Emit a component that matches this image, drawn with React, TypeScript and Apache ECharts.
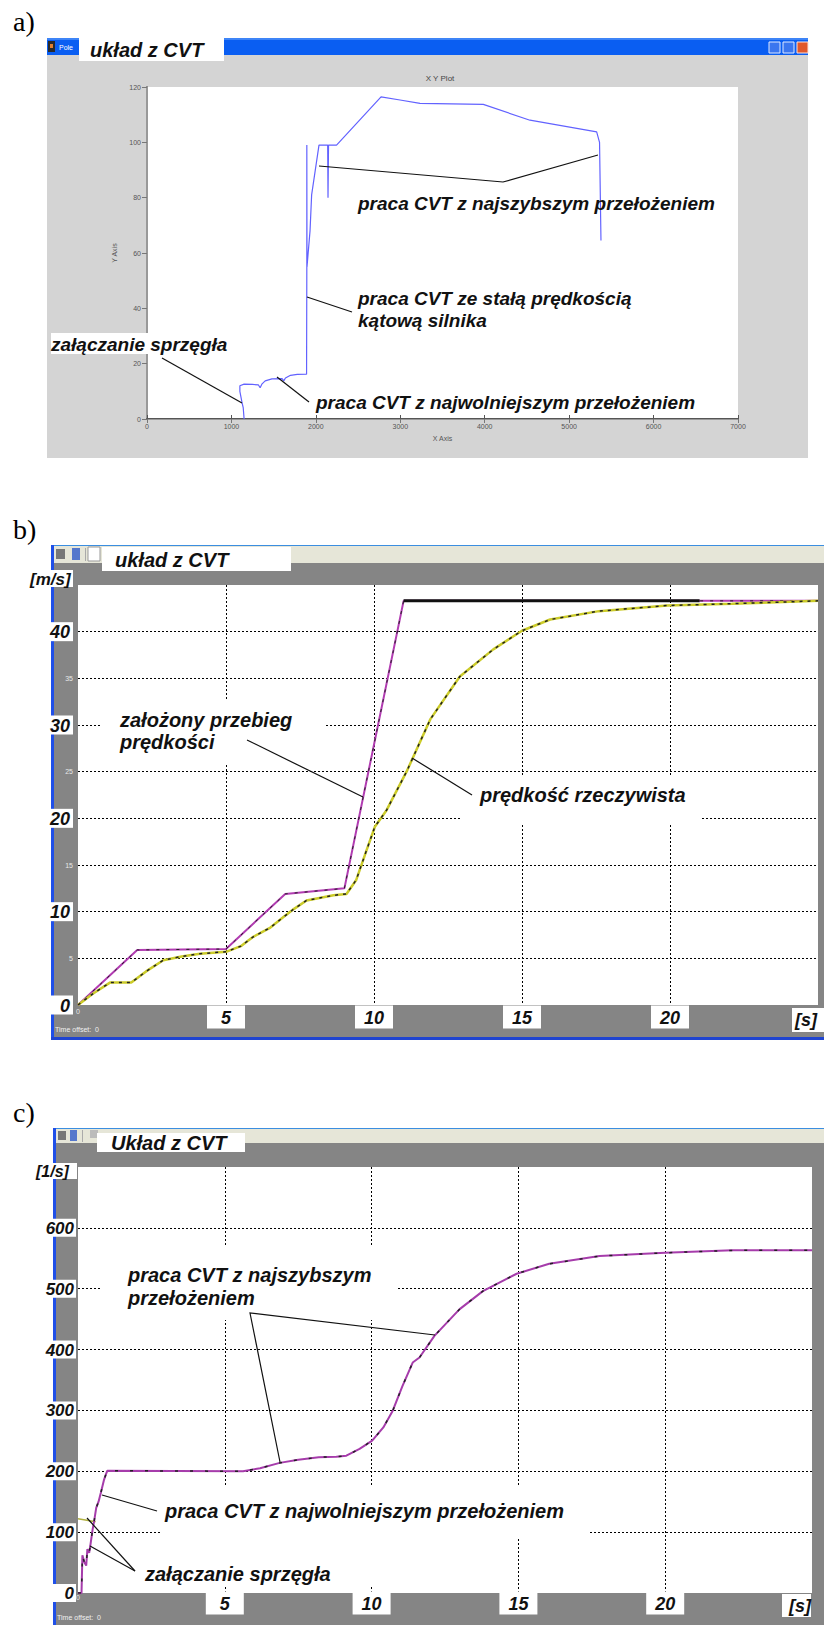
import React, { useEffect, useRef } from 'react';
import * as echarts from 'echarts';

const FAM = '"Liberation Sans", Arial, sans-serif';
const BI = (s: number) => `italic bold ${s}px ${FAM}`;

// ---------- panel a (XY plot) ----------
const aX = [1150, 1140, 1125, 1100, 1100, 1150, 1250, 1320, 1340, 1360, 1400, 1480, 1600, 1620, 1640, 1700, 1780, 1890, 1893, 1893, 1895, 1931, 1950, 2037, 2140, 2144, 2150, 2245, 2772, 2997, 3234, 3983, 4536, 5326, 5360, 5377];
const aY = [0, 4, 6, 10, 12, 12.6, 12.5, 12.3, 11.3, 12.6, 13.8, 14.5, 14.6, 13.8, 14.8, 15.8, 16.1, 16.2, 55, 99, 55, 68, 81, 99, 99, 80, 99, 99, 116.4, 115.3, 114.1, 113.7, 108, 103.8, 100, 64.5];

// ---------- panel b (speed) ----------
const bRefT = [0, 2, 5, 7, 9, 11, 25];
const bRefV = [0, 5.9, 6, 11.9, 12.5, 43.3, 43.3];
const bPlateauT = [11, 21];
const bPlateauV = [43.3, 43.3];
const bActT = [0, 0.5, 1.08, 1.8, 2.3, 2.88, 3.5, 4.12, 5, 5.5, 5.92, 6.5, 6.93, 7.3, 7.72, 8.2, 8.63, 9.07, 9.4, 9.75, 10.03, 10.43, 11.1, 11.9, 12.9, 14.03, 15, 15.95, 17.6, 19.9, 22.1, 25];
const bActV = [0, 1.2, 2.4, 2.4, 3.6, 4.8, 5.2, 5.5, 5.7, 6.3, 7.3, 8.3, 9.4, 10.3, 11.2, 11.5, 11.75, 11.9, 13.4, 16.6, 19.1, 20.9, 25, 30.6, 35.2, 38.1, 40.1, 41.3, 42.2, 42.8, 43.0, 43.3];

// ---------- panel c (angular speed) ----------
const cT = [0, 0.12, 0.15, 0.22, 0.28, 0.32, 0.38, 0.42, 0.5, 0.55, 0.62, 0.7, 0.78, 0.88, 0.95, 1.0, 5.62, 6.2, 6.87, 7.5, 8.2, 8.8, 9.14, 9.59, 10.02, 10.4, 10.72, 11.05, 11.4, 11.63, 12.14, 12.99, 13.79, 14.94, 16.05, 17.76, 19.99, 22.29, 25];
const cW = [0, 0, 62, 50, 45, 72, 66, 78, 105, 118, 140, 150, 165, 185, 195, 201, 200, 205, 213.8, 219, 223, 224, 225.7, 236.7, 250.3, 272, 299.5, 340, 378.7, 386.9, 422.5, 466, 496, 524.6, 541, 553.6, 559, 563, 563.4];
const cClutchT = [0, 0.6];
const cClutchW = [122, 117];

// ---------- tick labels ----------
const bBigY = [0, 10, 20, 30, 40];
const bTopY = 45;
const cTopY = 700;
const xUnitLabel = '[s]';

const pairs = (xs: number[], ys: number[]) => xs.map((x, i) => [x, ys[i]]);

function buildOption() {
  const G: any[] = [];
  const R = (x: number, y: number, w: number, h: number, fill: string, z = -10, extra: any = {}) =>
    G.push({ type: 'rect', silent: true, z, shape: { x, y, width: w, height: h }, style: { fill, ...extra } });
  const T = (x: number, y: number, text: string, font: string, fill = '#111', align = 'left', va = 'middle', z = 30, extra: any = {}) =>
    G.push({ type: 'text', silent: true, z, x, y, style: { text, font, fill, align, verticalAlign: va, textAlign: align, textVerticalAlign: va, ...extra } });
  const L = (pts: number[][]) =>
    G.push({ type: 'polyline', silent: true, z: 25, shape: { points: pts }, style: { stroke: '#111', lineWidth: 1.2, fill: 'none' } });

  // ---------- panel labels ----------
  T(13, 21, 'a)', `28px "Liberation Serif", "Times New Roman", serif`, '#000');
  T(13, 529, 'b)', `28px "Liberation Serif", "Times New Roman", serif`, '#000');
  T(13, 1112, 'c)', `28px "Liberation Serif", "Times New Roman", serif`, '#000');

  // ---------- panel a chrome ----------
  R(47, 38, 761, 420, '#d4d4d4', -12);
  R(47, 38, 761, 17, '#0a5ef2', -11);
  R(47, 38, 761, 2, '#3d84f7', -11);
  R(48, 41, 7, 11, '#2a2a2a', -10);
  R(50, 44, 3, 4, '#e08030', -9);
  T(59, 47, 'Pole', `7px ${FAM}`, '#fff', 'left', 'middle', -9);
  R(79, 38, 145, 23, '#ffffff', -10);
  T(90, 50, 'układ z CVT', BI(20), '#111');
  R(769, 42, 11, 11, '#3b76ef', -10, { stroke: '#dfe8ff', lineWidth: 1 });
  R(783, 42, 11, 11, '#3b76ef', -10, { stroke: '#dfe8ff', lineWidth: 1 });
  R(797, 42, 11, 11, '#e0582c', -10, { stroke: '#ffe0d8', lineWidth: 1 });
  R(147, 87, 591, 332, '#ffffff', -9);
  T(440, 78, 'X Y Plot', `8px ${FAM}`, '#444', 'center', 'middle', 5);

  // panel a annotations
  T(358, 203, 'praca CVT z najszybszym przełożeniem', BI(19), '#111');
  L([[319, 166], [503, 182], [598, 155]]);
  G.push({ type: 'text', silent: true, z: 30, x: 358, y: 309, style: { text: 'praca CVT ze stałą prędkością\nkątową silnika', font: BI(19), fill: '#111', lineHeight: 22, align: 'left', verticalAlign: 'middle', textAlign: 'left', textVerticalAlign: 'middle' } });
  L([[307, 297], [352, 312]]);
  R(51, 333, 181, 21, '#ffffff', 20);
  T(51, 344, 'załączanie sprzęgła', BI(19), '#111');
  L([[162, 358], [242, 403]]);
  T(316, 402, 'praca CVT z najwolniejszym przełożeniem', BI(19), '#111');
  L([[277, 377], [309, 402]]);

  // ---------- panel b chrome ----------
  R(52, 545, 772, 1, '#3b8ee0', -11);
  R(54, 546, 770, 17, '#e6e6d8', -11);
  R(54, 563, 770, 474, '#858585', -11);
  R(51, 545, 3, 492, '#1f4fe8', -10);
  R(51, 1037, 773, 3, '#1f44d0', -10);
  R(56, 549, 9, 10, '#777777', -10);
  R(72, 548, 8, 12, '#5577cc', -10);
  R(85, 548, 1, 13, '#aaaaaa', -10);
  R(88, 547, 12, 14, '#ffffff', -10, { stroke: '#999', lineWidth: 1 });
  R(102, 547, 189, 24, '#ffffff', -10);
  T(115, 560, 'układ z CVT', BI(20), '#111');
  R(78, 585, 740, 420, '#ffffff', -9);
  R(29, 570, 44, 17, '#ffffff', 20);
  T(30, 579, '[m/s]', BI(17), '#111');
  T(55, 1029, 'Time offset:  0', `7px ${FAM}`, '#f0f0f0', 'left', 'middle', 5);
  R(792, 1008, 34, 24, '#ffffff', 20);
  T(795, 1020, xUnitLabel, BI(18), '#111');

  // panel b annotations
  R(100, 700, 225, 63, '#ffffff', 20);
  G.push({ type: 'text', silent: true, z: 30, x: 120, y: 709, style: { text: 'założony przebieg\nprędkości', font: BI(20), fill: '#111', lineHeight: 22, align: 'left', verticalAlign: 'top', textAlign: 'left', textVerticalAlign: 'top' } });
  L([[247, 740], [363, 797]]);
  R(462, 775, 240, 48, '#ffffff', 20);
  T(480, 795, 'prędkość rzeczywista', BI(20), '#111');
  L([[412, 758], [472, 795]]);

  // ---------- panel c chrome ----------
  R(53, 1128, 771, 1, '#3b8ee0', -11);
  R(56, 1129, 768, 14, '#e6e6d8', -11);
  R(56, 1143, 768, 482, '#858585', -11);
  R(53, 1128, 3, 497, '#1f4fe8', -10);
  R(58, 1131, 8, 9, '#777777', -10);
  R(70, 1130, 7, 11, '#5577cc', -10);
  R(82, 1130, 1, 12, '#aaaaaa', -10);
  R(90, 1130, 8, 8, '#bbbbbb', -10);
  R(97, 1133, 148, 19, '#ffffff', -10);
  T(111, 1143, 'Układ z CVT', BI(20), '#111');
  R(78, 1167, 734, 426, '#ffffff', -9);
  R(35, 1163, 42, 16, '#ffffff', 20);
  T(36, 1171, '[1/s]', BI(16), '#111');
  T(57, 1617, 'Time offset:  0', `7px ${FAM}`, '#f0f0f0', 'left', 'middle', 5);
  R(782, 1594, 29, 23, '#ffffff', 20);
  T(789, 1606, xUnitLabel, BI(18), '#111');

  // panel c annotations
  R(100, 1245, 297, 75, '#ffffff', 20);
  G.push({ type: 'text', silent: true, z: 30, x: 128, y: 1263, style: { text: 'praca CVT z najszybszym\nprzełożeniem', font: BI(20), fill: '#111', lineHeight: 23, align: 'left', verticalAlign: 'top', textAlign: 'left', textVerticalAlign: 'top' } });
  L([[435, 1335], [250, 1313], [280, 1462]]);
  R(160, 1485, 428, 53, '#ffffff', 20);
  T(165, 1511, 'praca CVT z najwolniejszym przełożeniem', BI(20), '#111');
  L([[102, 1495], [157, 1511]]);
  R(140, 1538, 245, 48, '#ffffff', 20);
  T(145, 1574, 'załączanie sprzęgła', BI(20), '#111');
  L([[87, 1518], [135, 1571]]);
  L([[90, 1546], [135, 1571]]);

  const bigY = (w: number, pad: number[]) => ({ fontFamily: FAM, fontSize: 18, fontWeight: 'bold', fontStyle: 'italic', color: '#111', backgroundColor: '#fff', width: w, align: 'right', padding: pad, lineHeight: 18 });
  const bigX = { fontFamily: FAM, fontSize: 18, fontWeight: 'bold', fontStyle: 'italic', color: '#111', backgroundColor: '#fff', width: 30, align: 'center', padding: [3, 4, 2, 4], lineHeight: 18 };
  const small = { fontFamily: FAM, fontSize: 7, color: '#e8e8e8' };
  const grid = { show: true, lineStyle: { color: '#000', width: 1, type: [2, 2] }, showMinLine: false, showMaxLine: false };

  const aLabel = { fontFamily: FAM, fontSize: 7, color: '#555', formatter: (v: number) => String(v) };

  return {
    animation: false,
    graphic: { elements: G },
    grid: [
      { left: 147, top: 87, width: 591, height: 332 },
      { left: 78, top: 585, width: 740, height: 420 },
      { left: 78, top: 1167, width: 734, height: 426 },
    ],
    xAxis: [
      {
        gridIndex: 0, type: 'value', min: 0, max: 7000, interval: 1000,
        axisLine: { lineStyle: { color: '#555', width: 2 } },
        axisTick: { inside: true, length: 4, lineStyle: { color: '#555' } },
        axisLabel: { ...aLabel, margin: 4 }, splitLine: { show: false },
        name: 'X Axis', nameLocation: 'middle', nameGap: 16, nameTextStyle: { fontFamily: FAM, fontSize: 7, color: '#555' },
      },
      {
        gridIndex: 0, type: 'value', position: 'top', min: 0, max: 7000, interval: 1000,
        axisLine: { lineStyle: { color: '#999', width: 1 } },
        axisTick: { inside: true, length: 4, lineStyle: { color: '#777' } },
        axisLabel: { show: false }, splitLine: { show: false },
      },
      {
        gridIndex: 1, type: 'value', min: 0, max: 25, interval: 5,
        axisLine: { show: false }, axisTick: { show: false }, splitLine: grid,
        axisLabel: {
          margin: 3,
          formatter: (v: number) => (v === 0 ? '{small|0}' : v === 25 ? '' : `{big|${v}}`),
          rich: { big: bigX, small },
        },
      },
      {
        gridIndex: 2, type: 'value', min: 0, max: 25, interval: 5,
        axisLine: { show: false }, axisTick: { show: false }, splitLine: grid,
        axisLabel: {
          margin: 1,
          formatter: (v: number) => (v === 0 ? '{small|0}' : v === 25 ? '' : `{big|${v}}`),
          rich: { big: bigX, small },
        },
      },
    ],
    yAxis: [
      {
        gridIndex: 0, type: 'value', min: 0, max: 120, interval: 20,
        axisLine: { show: true, lineStyle: { color: '#555', width: 2 } },
        axisTick: { show: true, inside: false, length: 4, lineStyle: { color: '#555' } },
        axisLabel: { ...aLabel, margin: 6 }, splitLine: { show: false },
        name: 'Y Axis', nameLocation: 'middle', nameGap: 24, nameRotate: 90, nameTextStyle: { fontFamily: FAM, fontSize: 7, color: '#555' },
      },
      {
        gridIndex: 0, type: 'value', position: 'right', min: 0, max: 120, interval: 20,
        axisLine: { show: true, lineStyle: { color: '#999', width: 2 } },
        axisTick: { show: true, inside: true, length: 5, lineStyle: { color: '#777' } },
        axisLabel: { show: false }, splitLine: { show: false },
      },
      {
        gridIndex: 1, type: 'value', min: 0, max: 45, interval: 5,
        axisLine: { show: false }, axisTick: { show: false }, splitLine: grid,
        axisLabel: {
          margin: 5,
          formatter: (v: number) => (v === bTopY ? '' : bBigY.includes(v) ? `{big|${v}}` : `{small|${v}}`),
          rich: { big: bigY(24, [1, 3, 0, 3]), small },
        },
      },
      {
        gridIndex: 2, type: 'value', min: 0, max: 700, interval: 100,
        axisLine: { show: false }, axisTick: { show: false }, splitLine: grid,
        axisLabel: {
          margin: 2,
          formatter: (v: number) => (v === cTopY ? '' : `{big|${v}}`),
          rich: { big: { ...bigY(30, [1, 2, 0, 2]), fontSize: 17 } },
        },
      },
    ],
    series: [
      { type: 'line', xAxisIndex: 0, yAxisIndex: 0, data: pairs(aX, aY), showSymbol: false, lineStyle: { color: '#6262ff', width: 1.2 }, z: 3 },
      { type: 'line', xAxisIndex: 2, yAxisIndex: 2, data: pairs(bRefT, bRefV), showSymbol: false, lineStyle: { color: '#b23cb2', width: 2 }, z: 3 },
      { type: 'line', xAxisIndex: 2, yAxisIndex: 2, data: pairs(bRefT, bRefV), showSymbol: false, lineStyle: { color: '#222', width: 1, type: [3, 7] }, z: 4 },
      { type: 'line', xAxisIndex: 2, yAxisIndex: 2, data: pairs(bActT, bActV), showSymbol: false, lineStyle: { color: '#cccc2a', width: 2.5 }, z: 5 },
      { type: 'line', xAxisIndex: 2, yAxisIndex: 2, data: pairs(bActT, bActV), showSymbol: false, lineStyle: { color: '#222', width: 1.5, type: [3, 5] }, z: 6 },
      { type: 'line', xAxisIndex: 2, yAxisIndex: 2, data: pairs(bPlateauT, bPlateauV), showSymbol: false, lineStyle: { color: '#111', width: 3 }, z: 4 },
      { type: 'line', xAxisIndex: 3, yAxisIndex: 3, data: pairs(cClutchT, cClutchW), showSymbol: false, lineStyle: { color: '#b0b040', width: 1.5 }, z: 3 },
      { type: 'line', xAxisIndex: 3, yAxisIndex: 3, data: pairs(cT, cW), showSymbol: false, lineStyle: { color: '#a63cab', width: 2 }, z: 4 },
      { type: 'line', xAxisIndex: 3, yAxisIndex: 3, data: pairs(cT, cW), showSymbol: false, lineStyle: { color: '#222', width: 1.5, type: [3, 12] }, z: 5 },
    ],
  };
}

export default function App() {
  const ref = useRef<HTMLDivElement>(null);
  useEffect(() => {
    const chart = echarts.init(ref.current!, null, { renderer: 'svg' });
    chart.setOption(buildOption() as any);
    return () => chart.dispose();
  }, []);
  return <div ref={ref} style={{ position: 'absolute', left: 0, top: 0, width: 824, height: 1625, background: '#fff' }} />;
}
